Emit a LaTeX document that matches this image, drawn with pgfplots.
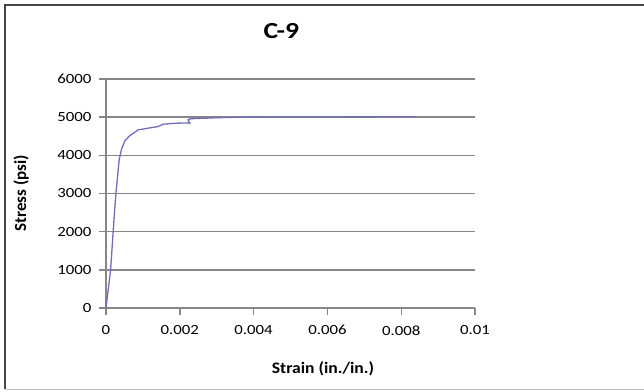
\documentclass[border=0pt]{standalone}
\usepackage{pgfplots}
\pgfplotsset{compat=1.18}
\usepackage{fontspec}
\setmainfont{Carlito}
\newfontfamily\hfont[FakeStretch=1.2]{Carlito}
\newfontfamily\lfont[FakeStretch=1.1]{Carlito}
\definecolor{curve}{RGB}{110,110,185}
\definecolor{gridc}{RGB}{135,135,135}
\definecolor{framec}{RGB}{70,70,70}
\begin{document}
\begin{tikzpicture}[x=1pt,y=1pt]
\path[use as bounding box] (0,0) rectangle (644,391);
\draw[framec, line width=2pt] (5,2) -- (5,386) -- (644,386);
\draw[gray!50, line width=1pt] (5,1.5) -- (644,1.5);
\begin{axis}[
  at={(106pt,83pt)}, anchor=south west,
  scale only axis, width=369pt, height=229pt,
  xmin=0, xmax=0.01, ymin=0, ymax=6000,
  axis x line=bottom, axis y line=left,
  axis line style={-, gridc, line width=1.4pt},
  xtick={0,0.002,0.004,0.006,0.008,0.01},
  xticklabels={0,0.002,0.004,0.006,0.008,0.01},
  scaled x ticks=false,
  ytick={0,1000,2000,3000,4000,5000,6000},
  /pgf/number format/assume math mode=true,
  /pgf/number format/set thousands separator={},
  tick align=outside, major tick length=7pt,
  tick style={gridc, line width=1.4pt},
  ymajorgrids, major grid style={gridc, line width=1.5pt},
  ticklabel style={font=\hfont\fontsize{14}{16}\selectfont},
  xticklabel style={yshift=-7pt},
  yticklabel style={xshift=-4pt},
  title={\textbf{C-9}},
  title style={at={(rel axis cs:0.475,1.183)}, anchor=center, font=\hfont\fontsize{23}{26}\selectfont},
  xlabel={\textbf{Strain (in./in.)}},
  xlabel style={at={(rel axis cs:0.588,-0.266)}, anchor=center, font=\lfont\fontsize{16}{18}\selectfont},
  ylabel={\textbf{Stress (psi)}},
  ylabel style={at={(rel axis cs:-0.23,0.5)}, anchor=center, rotate=0, font=\fontsize{17}{19}\selectfont},
  clip=false,
]
\addplot[curve, line width=1.3pt, line join=round] coordinates {
(0,0) (0.000126,1009) (0.000198,2061) (0.00027,3026) (0.00036,3904)
(0.000423,4167) (0.000514,4386) (0.00065,4518) (0.00087,4667)
(0.00114,4711) (0.00141,4754) (0.00155,4816) (0.00191,4842)
(0.00225,4851) (0.00228,4830) (0.00222,4930) (0.0023,4960)
(0.0030,4985) (0.0036,5000) (0.0050,5005) (0.0070,5008) (0.00838,5010)
};
\end{axis}
\end{tikzpicture}
\end{document}
